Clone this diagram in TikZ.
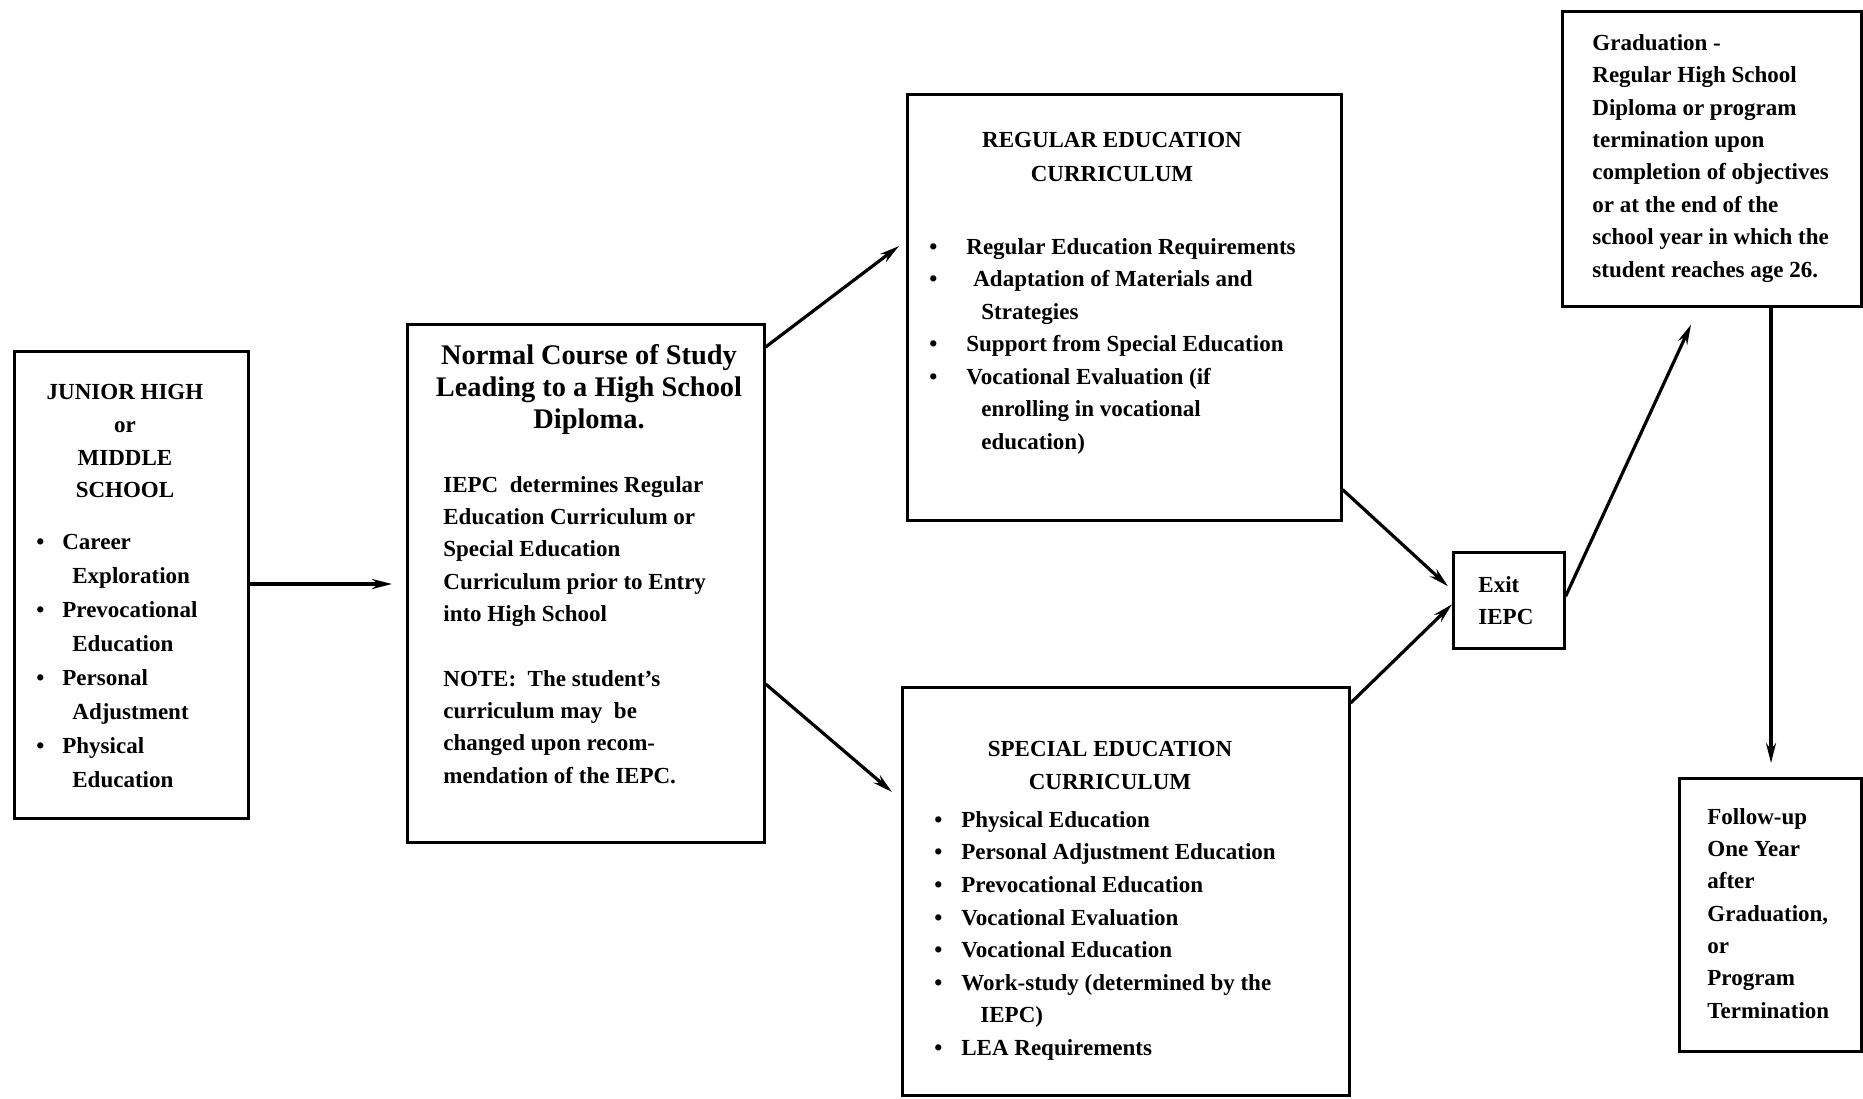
\documentclass[tikz,border=0pt]{standalone}
\usepackage{fontspec}
\setmainfont{Liberation Serif}
\usetikzlibrary{arrows.meta,calc}

% body and heading type
\newcommand\bodytype[1]{\fontsize{11.5}{#1}\selectfont\bfseries}
\newcommand\headtype{\fontsize{14.2}{16}\selectfont\bfseries}
\newcommand\bul[1]{\makebox[#1][l]{\textbullet}}

\begin{document}
\begin{tikzpicture}[x=0.5pt,y=-0.5pt,
  panel/.style={draw=black, line width=1.3pt, rectangle, inner sep=0pt,
    anchor=north west, fill=white},
  txt/.style={inner sep=0pt, align=left, anchor=north west},
  ctxt/.style={inner sep=0pt, align=center, anchor=north},
  flow/.style={draw=black, line width=1.6pt,
    -{Stealth[length=10pt,width=5pt]}}]

\useasboundingbox (0,0) rectangle (1863,1098);

% ---------- boxes ----------
\node[panel, minimum width=117pt, minimum height=233.5pt] (jh) at (13,350) {};
\node[panel, minimum width=178.5pt, minimum height=259pt] (nrm) at (406,323) {};
\node[panel, minimum width=217pt, minimum height=213pt] (reg) at (906,93) {};
\node[panel, minimum width=223.5pt, minimum height=204pt] (spc) at (901,686) {};
\node[panel, minimum width=149.5pt, minimum height=147.5pt] (grad) at (1561,10) {};
\node[panel, minimum width=55.5pt, minimum height=48pt] (ext) at (1452,551) {};
\node[panel, minimum width=91pt, minimum height=136.5pt] (fol) at (1678,777) {};

% ---------- junior high ----------
\node[ctxt, font=\bodytype{16.35pt}] (jhtitle) at (125,384)
  {JUNIOR HIGH\\or\\MIDDLE\\SCHOOL};
\node[txt, font=\bodytype{17pt}] (jhlist) at (36,534)
  {\bul{13pt}Career\\
   \hspace*{18pt}Exploration\\
   \bul{13pt}Prevocational\\
   \hspace*{18pt}Education\\
   \bul{13pt}Personal\\
   \hspace*{18pt}Adjustment\\
   \bul{13pt}Physical\\
   \hspace*{18pt}Education};

% ---------- normal course ----------
\node[ctxt, font=\headtype] (nrmtitle) at (589,344)
  {Normal Course of Study\\Leading to a High School\\Diploma.};
\node[txt, font=\bodytype{16.15pt}] (nrmtext) at (443,476)
  {IEPC\ \ determines Regular\\
   Education Curriculum or\\
   Special Education\\
   Curriculum prior to Entry\\
   into High School\\[16.15pt]
   NOTE:\ \ The student's\\
   curriculum may\ \ be\\
   changed upon recom-\\
   mendation of the IEPC.};

% ---------- regular education ----------
\node[ctxt, font=\bodytype{17pt}] (regtitle) at (1112,132)
  {REGULAR EDUCATION\\CURRICULUM};
\node[txt, font=\bodytype{16.25pt}] (reglist) at (929,238)
  {\bul{18.5pt}Regular Education Requirements\\
   \bul{22pt}Adaptation of Materials and\\
   \hspace*{26pt}Strategies\\
   \bul{18.5pt}Support from Special Education\\
   \bul{18.5pt}Vocational Evaluation (if\\
   \hspace*{26pt}enrolling in vocational\\
   \hspace*{26pt}education)};

% ---------- special education ----------
\node[ctxt, font=\bodytype{16.5pt}] (spctitle) at (1110,741)
  {SPECIAL EDUCATION\\CURRICULUM};
\node[txt, font=\bodytype{16.3pt}] (spclist) at (934,811)
  {\bul{13.5pt}Physical Education\\
   \bul{13.5pt}Personal Adjustment Education\\
   \bul{13.5pt}Prevocational Education\\
   \bul{13.5pt}Vocational Evaluation\\
   \bul{13.5pt}Vocational Education\\
   \bul{13.5pt}Work-study (determined by the\\
   \hspace*{23pt}IEPC)\\
   \bul{13.5pt}LEA Requirements};

% ---------- exit, graduation, follow-up ----------
\node[txt, font=\bodytype{16pt}] (exttext) at (1478,576) {Exit\\IEPC};
\node[txt, font=\bodytype{16.2pt}] (gradtext) at (1592,34)
  {Graduation -\\
   Regular High School\\
   Diploma or program\\
   termination upon\\
   completion of objectives\\
   or at the end of the\\
   school year in which the\\
   student reaches age 26.};
\node[txt, font=\bodytype{16.15pt}] (foltext) at (1707,808)
  {Follow-up\\One Year\\after\\Graduation,\\or\\Program\\Termination};

% ---------- connectors ----------
\draw[flow] ($(jh.north east)+(0,234)$) -- ($(nrm.north west)+(-14,261)$);
\draw[flow] ($(nrm.north east)+(0,24)$) -- ($(reg.north west)+(-7,153)$);
\draw[flow] ($(nrm.north east)+(0,361)$) -- ($(spc.north west)+(-9,106)$);
\draw[flow] ($(reg.south east)+(0,-32)$) -- ($(ext.west)+(-4,-14)$);
\draw[flow] ($(spc.north east)+(0,17)$) -- ($(ext.west)+(0,4)$);
\draw[flow] ($(ext.east)+(0,-4)$) -- ($(grad.south west)+(130,17)$);
\draw[flow] ($(grad.south west)+(210,0)$) -- ($(fol.north west)+(93,-14)$);

\end{tikzpicture}
\end{document}
